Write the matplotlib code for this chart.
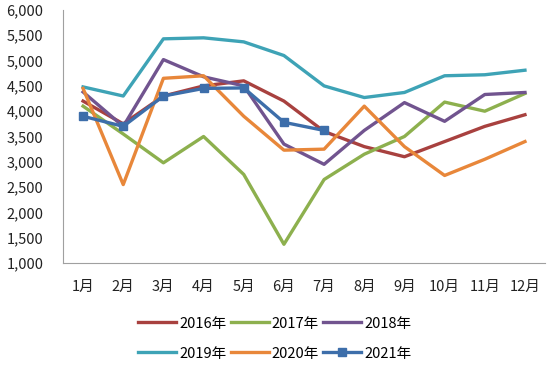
import matplotlib
matplotlib.use("Agg")
import matplotlib.pyplot as plt
from matplotlib.ticker import FuncFormatter

plt.rcParams['font.family'] = ['Noto Sans CJK SC', 'DejaVu Sans']

months = ["1月", "2月", "3月", "4月", "5月", "6月", "7月", "8月", "9月", "10月", "11月", "12月"]

y2016 = [4200, 3750, 4300, 4500, 4600, 4200, 3600, 3300, 3100, 3400, 3700, 3930]
y2017 = [4100, 3550, 2980, 3500, 2750, 1370, 2650, 3150, 3500, 4180, 4000, 4350]
y2018 = [4380, 3700, 5020, 4680, 4500, 3350, 2950, 3620, 4170, 3800, 4330, 4370]
y2019 = [4480, 4300, 5430, 5450, 5370, 5100, 4500, 4270, 4370, 4700, 4720, 4810]
y2020 = [4450, 2550, 4650, 4700, 3900, 3230, 3250, 4100, 3300, 2730, 3050, 3400]
y2021 = [3900, 3700, 4300, 4450, 4460, 3780, 3620]

fig = plt.figure(figsize=(5.5, 3.66), dpi=100)
ax = fig.add_axes([0.1145, 0.2814, 0.8765, 0.6913])

x = list(range(len(months)))
lw = 2.4
l16, = ax.plot(x, y2016, color="#A8413F", lw=lw, label="2016年")
l17, = ax.plot(x, y2017, color="#8DB04E", lw=lw, label="2017年")
l18, = ax.plot(x, y2018, color="#71548F", lw=lw, label="2018年")
l19, = ax.plot(x, y2019, color="#3EA3B6", lw=lw, label="2019年")
l20, = ax.plot(x, y2020, color="#E8873A", lw=lw, label="2020年")
l21, = ax.plot(x[:len(y2021)], y2021, color="#3D6EAA", lw=lw, marker="s", markersize=6, label="2021年")

ax.set_xlim(-0.5, 11.5)
ax.set_ylim(1000, 6000)
ax.set_yticks(range(1000, 6001, 500))
ax.yaxis.set_major_formatter(FuncFormatter(lambda v, p: f"{int(v):,}"))
ax.set_xticks(x)
ax.set_xticklabels(months)
ax.tick_params(length=0, labelsize=10.5, colors="#222222")
ax.tick_params(axis='x', pad=12)
ax.tick_params(axis='y', pad=14)
for s in ["top", "right"]:
    ax.spines[s].set_visible(False)
for s in ["left", "bottom"]:
    ax.spines[s].set_color("#A0A0A0")

# legend fills by column, so order handles to read row by row
handles = [l16, l19, l17, l20, l18, l21]
fig.legend(handles=handles, labels=[h.get_label() for h in handles],
           loc="center", bbox_to_anchor=(0.5, 0.075), ncol=3, frameon=False,
           fontsize=10.5, handlelength=2.6, handletextpad=0.2, columnspacing=0.3,
           labelspacing=1.1)

fig.savefig("out.png", dpi=100)
